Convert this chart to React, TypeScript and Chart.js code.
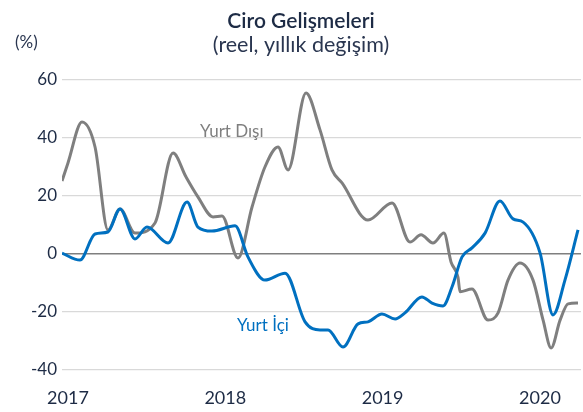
import React, { useEffect, useRef } from "react";
import { Chart, registerables } from "chart.js";

Chart.register(...registerables);

// x axis: time in decimal years; tick labels at year starts
const yearTicks = [2017, 2018, 2019, 2020];
const xMin = 2016.962;
const xMax = 2020.261;
const yTicks = [-40, -20, 0, 20, 40, 60];

// Yurt Dışı (grey)
const yurtDisiX = [
  2016.962, 2017.0, 2017.089, 2017.172, 2017.254, 2017.331, 2017.426, 2017.553,
  2017.668, 2017.75, 2017.826, 2017.922, 2017.979, 2018.081, 2018.17, 2018.252,
  2018.335, 2018.399, 2018.513, 2018.602, 2018.678, 2018.742, 2018.907, 2019.06,
  2019.174, 2019.244, 2019.32, 2019.39, 2019.435, 2019.479, 2019.492, 2019.568,
  2019.67, 2019.734, 2019.797, 2019.873, 2019.956, 2020.02, 2020.071, 2020.128,
  2020.179, 2020.242,
];
const yurtDisiY = [
  25.2, 31.4, 45.5, 36.9, 8.3, 15.5, 7.2, 10.7,
  34.8, 26.6, 19.7, 12.8, 13.1, -1.4, 16.2, 30.0,
  36.9, 29.0, 55.5, 42.8, 29.0, 24.5, 11.7, 17.6,
  4.1, 6.6, 3.8, 7.2, -2.8, -8.0, -13.0, -12.1,
  -22.8, -20.3, -9.0, -3.1, -9.0, -22.8, -32.4, -22.8,
  -17.2, -16.9,
];

// Yurt İçi (blue)
const yurtIciX = [
  2016.962, 2017.076, 2017.172, 2017.254, 2017.331, 2017.426, 2017.502, 2017.636,
  2017.757, 2017.826, 2017.915, 2018.062, 2018.144, 2018.252, 2018.38, 2018.507,
  2018.602, 2018.653, 2018.748, 2018.844, 2018.907, 2018.996, 2019.079, 2019.142,
  2019.25, 2019.314, 2019.384, 2019.441, 2019.505, 2019.568, 2019.651, 2019.746,
  2019.829, 2019.893, 2020.001, 2020.083, 2020.159, 2020.242,
];
const yurtIciY = [
  0.3, -2.1, 6.9, 7.6, 15.5, 5.2, 9.3, 3.8,
  17.9, 9.3, 7.9, 9.7, -1.0, -9.0, -6.6, -23.4,
  -26.2, -26.2, -32.1, -24.1, -23.4, -20.7, -22.4, -20.3,
  -14.8, -16.9, -17.9, -11.4, -1.0, 2.1, 7.2, 18.3,
  12.1, 11.0, 0.3, -21.0, -9.0, 8.3,
];

const GREY = "#7f7f7f";
const BLUE = "#0070c0";
const NAVY = "#1d2b45";
const FONT = "Lato, 'Open Sans', sans-serif";

const textPlugin = {
  id: "texts",
  afterDraw(chart: any) {
    const ctx = chart.ctx;
    const xs = chart.scales.x;
    const ys = chart.scales.y;
    ctx.save();
    ctx.textBaseline = "alphabetic";
    // title
    ctx.fillStyle = NAVY;
    ctx.textAlign = "center";
    ctx.font = `600 21px ${FONT}`;
    ctx.fillText("Ciro Gelişmeleri", 301, 28);
    ctx.font = `400 21.5px ${FONT}`;
    ctx.fillStyle = "#2a3650";
    ctx.fillText("(reel, yıllık değişim)", 301, 52);
    // unit
    ctx.textAlign = "left";
    ctx.font = `400 17px ${FONT}`;
    ctx.fillText("(%)", 15, 48);
    // series labels
    ctx.font = `400 17px ${FONT}`;
    ctx.fillStyle = GREY;
    ctx.fillText("Yurt Dışı", xs.getPixelForValue(2017.839), ys.getPixelForValue(40.3));
    ctx.fillStyle = BLUE;
    ctx.fillText("Yurt İçi", xs.getPixelForValue(2018.074), ys.getPixelForValue(-26.5));
    ctx.restore();
  },
};

export default function App() {
  const ref = useRef<HTMLCanvasElement | null>(null);

  useEffect(() => {
    if (!ref.current) return;
    const chart = new Chart(ref.current, {
      type: "line",
      data: {
        datasets: [
          {
            label: "Yurt Dışı",
            data: yurtDisiX.map((x, i) => ({ x, y: yurtDisiY[i] })),
            borderColor: GREY,
            borderWidth: 3,
            pointRadius: 0,
            cubicInterpolationMode: "monotone",
            fill: false,
            order: 1,
          },
          {
            label: "Yurt İçi",
            data: yurtIciX.map((x, i) => ({ x, y: yurtIciY[i] })),
            borderColor: BLUE,
            borderWidth: 3,
            pointRadius: 0,
            cubicInterpolationMode: "monotone",
            fill: false,
            order: 0,
          },
        ],
      },
      options: {
        animation: false,
        responsive: false,
        devicePixelRatio: 1,
        layout: { padding: { top: 80, left: 0, right: 2, bottom: 0 } },
        plugins: {
          legend: { display: false },
          tooltip: { enabled: false },
          title: { display: false },
        },
        scales: {
          x: {
            type: "linear",
            min: xMin,
            max: xMax,
            afterBuildTicks: (scale: any) => {
              scale.ticks = yearTicks.map((v) => ({ value: v }));
            },
            afterFit: (scale: any) => {
              scale.height = 42;
            },
            grid: { display: false, drawTicks: false },
            border: { display: false },
            ticks: {
              padding: 17,
              color: NAVY,
              font: { family: FONT, size: 18 },
              maxRotation: 0,
              autoSkip: false,
              callback: (v: any) => String(v),
            },
          },
          y: {
            min: -40,
            max: 60,
            afterBuildTicks: (scale: any) => {
              scale.ticks = yTicks.map((v) => ({ value: v }));
            },
            afterFit: (scale: any) => {
              scale.width = 62;
            },
            grid: {
              drawTicks: false,
              color: (c: any) => (c.tick && c.tick.value === 0 ? "#7f7f7f" : "#d9d9d9"),
              lineWidth: (c: any) => (c.tick && c.tick.value === 0 ? 1.5 : 1.2),
            },
            border: { display: false },
            ticks: {
              padding: 5,
              color: NAVY,
              font: { family: FONT, size: 17 },
              callback: (v: any) => String(v),
            },
          },
        },
      },
      plugins: [textPlugin],
    });
    return () => chart.destroy();
  }, []);

  return (
    <div style={{ position: "fixed", left: 0, top: 0, width: 583, height: 412, background: "#fff" }}>
      <canvas ref={ref} width={583} height={412} style={{ display: "block" }} />
    </div>
  );
}
